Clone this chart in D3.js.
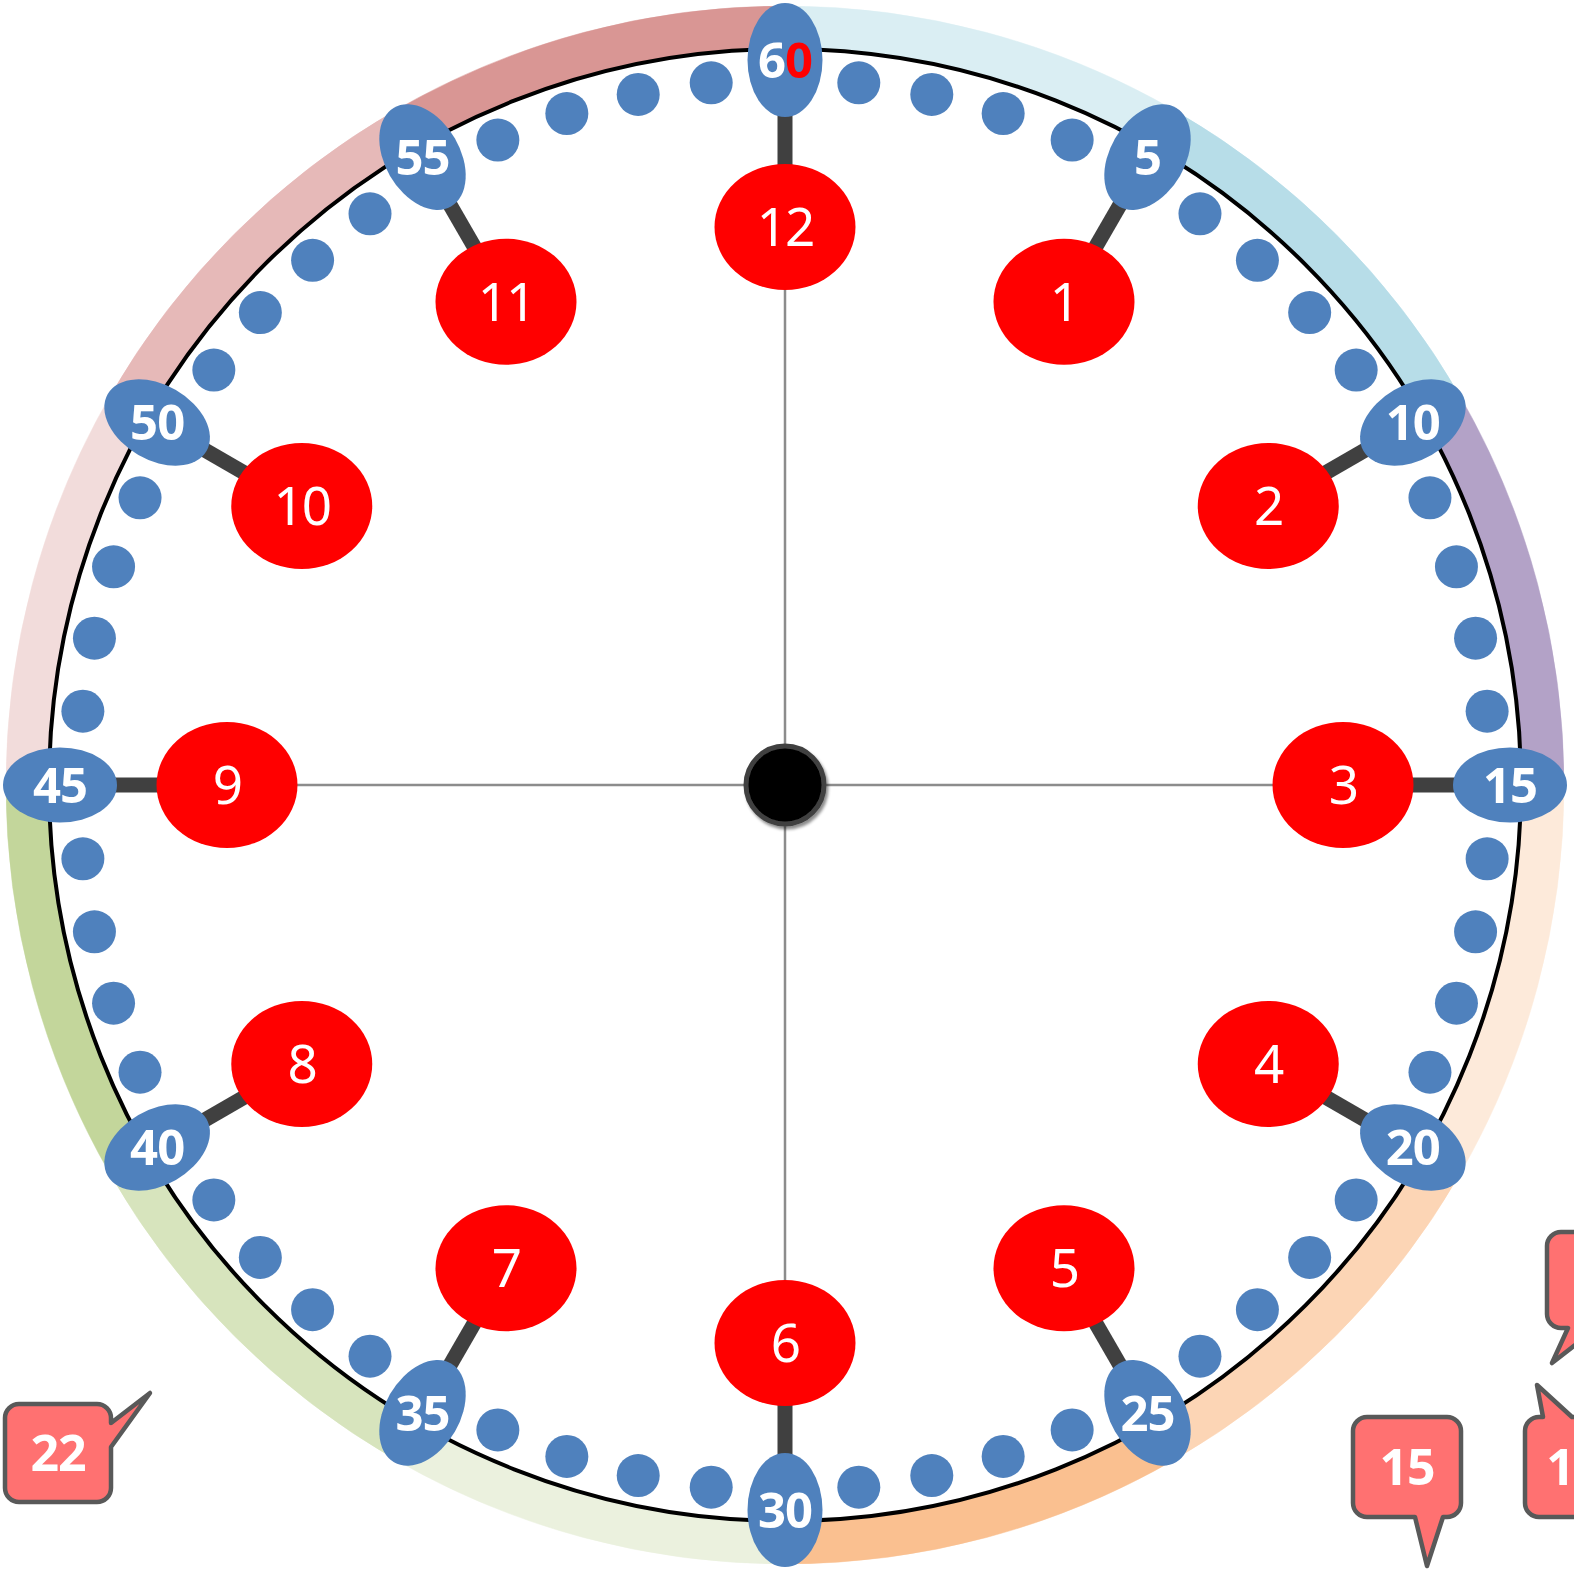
<!DOCTYPE html>
<html>
<head>
<meta charset="utf-8">
<script src="https://cdn.jsdelivr.net/npm/d3@7"></script>
<style>
  body { margin: 0; background: #fff; }
</style>
</head>
<body>
<div id="clock"></div>
<script>
// ---- data ----
var hourLabels = [12, 1, 2, 3, 4, 5, 6, 7, 8, 9, 10, 11];
var markLabels = ["60", "5", "10", "15", "20", "25", "30", "35", "40", "45", "50", "55"];
var minuteTicks = d3.range(60).filter(function(m) { return m % 5 !== 0; });
var bandStarts = [0, 5, 10, 15, 20, 25, 30, 35, 40, 45, 50, 55];
var calloutLabels = ["22", "15", "1", ""];

// palette for the outer band, one per 5-minute segment
var bandColors = ["#daeef3", "#b7dde8", "#b3a2c7", "#fdeada", "#fcd5b5", "#fac090",
                  "#ebf1de", "#d7e4bd", "#c3d69b", "#f2dcdb", "#e6b9b8", "#d99694"];

var svgWidth = 1574;
var svgHeight = 1569;
var cx = 785, cy = 785;

var rBandIn = 737, rBandOut = 779;
var rRing = 736;
var rMark = 725;
var rTick = 706;
var rHour = 558;

var svg = d3.select("#clock")
    .append("svg")
    .attr("width", svgWidth)
    .attr("height", svgHeight);

var defs = svg.append("defs");
var shadow = defs.append("filter").attr("id", "shadow")
    .attr("x", "-20%").attr("y", "-20%").attr("width", "150%").attr("height", "150%");
shadow.append("feDropShadow")
    .attr("dx", 2).attr("dy", 3).attr("stdDeviation", 1.5)
    .attr("flood-color", "#000").attr("flood-opacity", 0.45);

var clock = svg.append("g")
    .attr("transform", `translate(${cx}, ${cy})`);

// angle scales (clockwise from 12 o'clock)
var minuteAngle = d3.scaleLinear().domain([0, 60]).range([0, 2 * Math.PI]);
var hourAngle = d3.scaleLinear().domain([0, 12]).range([0, 2 * Math.PI]);
var bandColor = d3.scaleOrdinal().domain(bandStarts).range(bandColors);

function px(a, r) { return r * Math.sin(a); }
function py(a, r) { return -r * Math.cos(a); }

// outer coloured band
var arc = d3.arc().innerRadius(rBandIn).outerRadius(rBandOut);
clock.selectAll("path.band")
    .data(bandStarts)
    .enter()
    .append("path")
    .attr("class", "band")
    .attr("d", function(d) {
        return arc({ startAngle: minuteAngle(d), endAngle: minuteAngle(d + 5) });
    })
    .attr("fill", function(d) { return bandColor(d); })
    .attr("stroke", function(d) { return bandColor(d); })
    .attr("stroke-width", 0.5);

// black ring
clock.append("circle")
    .attr("r", rRing)
    .attr("fill", "none")
    .attr("stroke", "#000")
    .attr("stroke-width", 4);

// minute dots
clock.selectAll("circle.tick")
    .data(minuteTicks)
    .enter()
    .append("circle")
    .attr("class", "tick")
    .attr("cx", function(d) { return px(minuteAngle(d), rTick); })
    .attr("cy", function(d) { return py(minuteAngle(d), rTick); })
    .attr("r", 21.5)
    .attr("fill", "#4f81bd");

// connectors between hour and 5-minute markers
clock.selectAll("line.connector")
    .data(hourLabels)
    .enter()
    .append("line")
    .attr("class", "connector")
    .attr("x1", function(d) { return px(hourAngle(d % 12), rHour); })
    .attr("y1", function(d) { return py(hourAngle(d % 12), rHour); })
    .attr("x2", function(d) { return px(hourAngle(d % 12), rMark); })
    .attr("y2", function(d) { return py(hourAngle(d % 12), rMark); })
    .attr("stroke", "#404040")
    .attr("stroke-width", 15);

// thin crosshair
[[12, 6], [9, 3]].forEach(function(pair) {
    var a0 = hourAngle(pair[0] % 12), a1 = hourAngle(pair[1] % 12);
    clock.append("line")
        .attr("x1", px(a0, rHour)).attr("y1", py(a0, rHour))
        .attr("x2", px(a1, rHour + 20)).attr("y2", py(a1, rHour + 20))
        .attr("stroke", "#8c8c8c")
        .attr("stroke-width", 2.5);
});

// 5-minute markers
var marks = clock.selectAll("g.mark")
    .data(markLabels)
    .enter()
    .append("g")
    .attr("class", "mark")
    .attr("transform", function(d, i) {
        var a = minuteAngle(i * 5);
        return `translate(${px(a, rMark)}, ${py(a, rMark)})`;
    });

marks.append("ellipse")
    .attr("rx", 37.5)
    .attr("ry", 57)
    .attr("transform", function(d, i) { return `rotate(${i * 30})`; })
    .attr("fill", "#4f81bd");

var markText = marks.append("text")
    .attr("text-anchor", "middle")
    .attr("dy", "0.36em")
    .attr("font-family", "'Open Sans', 'DejaVu Sans', sans-serif")
    .attr("font-weight", 700)
    .attr("font-size", 49)
    .attr("letter-spacing", -1)
    .attr("fill", "#fff");

markText.each(function(d) {
    var t = d3.select(this);
    if (d === "60") {
        t.append("tspan").text("6");
        t.append("tspan").attr("fill", "#ff0000").text("0");
    } else {
        t.text(d);
    }
});

// hour ellipses
var hours = clock.selectAll("g.hour")
    .data(hourLabels)
    .enter()
    .append("g")
    .attr("class", "hour")
    .attr("transform", function(d) {
        var a = hourAngle(d % 12);
        return `translate(${px(a, rHour)}, ${py(a, rHour)})`;
    });

hours.append("ellipse")
    .attr("rx", 70.5)
    .attr("ry", 63)
    .attr("fill", "#ff0000");

hours.append("text")
    .text(function(d) { return d; })
    .attr("text-anchor", "middle")
    .attr("dy", "0.36em")
    .attr("font-family", "'Noto Sans', sans-serif")
    .attr("font-size", 53)
    .attr("letter-spacing", -2)
    .attr("fill", "#fff");

// centre hub
clock.append("circle")
    .attr("r", 39)
    .attr("fill", "#000")
    .attr("stroke", "#404040")
    .attr("stroke-width", 5)
    .attr("filter", "url(#shadow)");

// speech-bubble callouts (the two on the right run off the page edge)
var calloutLayout = [
    { x: 5,    y: 1404, w: 106, h: 98,  side: "right",  a: 19, b: 43, tx: 150,  ty: 1393, lx: 58 },
    { x: 1353, y: 1417, w: 108, h: 100, side: "bottom", a: 62, b: 90, tx: 1427, ty: 1566, lx: 1407 },
    { x: 1525, y: 1417, w: 108, h: 100, side: "top",    a: 18, b: 47, tx: 1537, ty: 1385, lx: 1560 },
    { x: 1547, y: 1232, w: 108, h: 96,  side: "bottom", a: 21, b: 50, tx: 1552, ty: 1363, lx: 1601 }
];

function bubblePath(c) {
    var r = 14, x = c.x, y = c.y, w = c.w, h = c.h;
    var p = d3.path();
    p.moveTo(x + r, y);
    if (c.side === "top") {
        p.lineTo(x + c.a, y); p.lineTo(c.tx, c.ty); p.lineTo(x + c.b, y);
    }
    p.lineTo(x + w - r, y);
    p.arcTo(x + w, y, x + w, y + r, r);
    if (c.side === "right") {
        p.lineTo(x + w, y + c.a); p.lineTo(c.tx, c.ty); p.lineTo(x + w, y + c.b);
    }
    p.lineTo(x + w, y + h - r);
    p.arcTo(x + w, y + h, x + w - r, y + h, r);
    if (c.side === "bottom") {
        p.lineTo(x + c.b, y + h); p.lineTo(c.tx, c.ty); p.lineTo(x + c.a, y + h);
    }
    p.lineTo(x + r, y + h);
    p.arcTo(x, y + h, x, y + h - r, r);
    p.lineTo(x, y + r);
    p.arcTo(x, y, x + r, y, r);
    p.closePath();
    return p.toString();
}

var callouts = svg.selectAll("g.callout")
    .data(calloutLabels)
    .enter()
    .append("g")
    .attr("class", "callout");

callouts.append("path")
    .attr("d", function(d, i) { return bubblePath(calloutLayout[i]); })
    .attr("fill", "#ff7171")
    .attr("stroke", "#595959")
    .attr("stroke-width", 4.5)
    .attr("stroke-linejoin", "round");

callouts.filter(function(d) { return d !== ""; })
    .append("text")
    .text(function(d) { return d; })
    .attr("x", function(d) { return calloutLayout[calloutLabels.indexOf(d)].lx; })
    .attr("y", function(d) {
        var c = calloutLayout[calloutLabels.indexOf(d)];
        return c.y + c.h / 2;
    })
    .attr("dy", "0.36em")
    .attr("text-anchor", "middle")
    .attr("font-family", "'Open Sans', 'DejaVu Sans', sans-serif")
    .attr("font-weight", 700)
    .attr("font-size", 50)
    .attr("letter-spacing", -1)
    .attr("fill", "#fff");
</script>
</body>
</html>
